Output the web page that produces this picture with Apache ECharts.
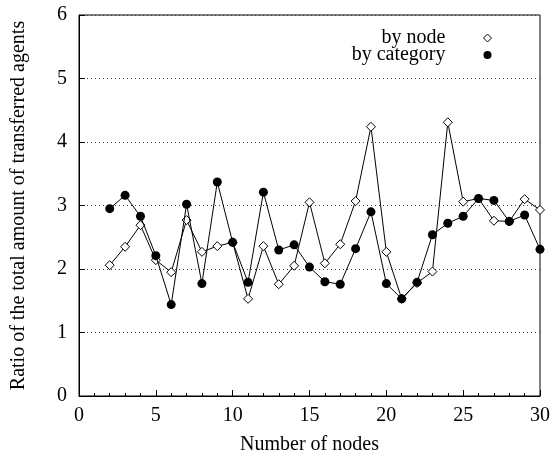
<!DOCTYPE html>
<html>
<head>
<meta charset="utf-8">
<script src="https://cdn.jsdelivr.net/npm/echarts@6/dist/echarts.min.js"></script>
<style>
  html, body { margin: 0; padding: 0; background: #fff; }
  #main { width: 555px; height: 460px; }
</style>
</head>
<body>
<div id="main"></div>
<script>
;(function() {
    // number of nodes
    var nodes = [2, 3, 4, 5, 6, 7, 8, 9, 10, 11, 12, 13, 14, 15, 16,
                 17, 18, 19, 20, 21, 22, 23, 24, 25, 26, 27, 28, 29, 30];
    var byNode = [2.06, 2.35, 2.69, 2.14, 1.95, 2.77, 2.27, 2.36, 2.42, 1.53,
                  2.36, 1.76, 2.05, 3.05, 2.09, 2.39, 3.07, 4.24, 2.27, 1.53,
                  1.78, 1.96, 4.31, 3.06, 3.11, 2.76, 2.75, 3.10, 2.93];
    var byCategory = [2.95, 3.16, 2.83, 2.21, 1.44, 3.02, 1.77, 3.37, 2.42, 1.79,
                      3.21, 2.30, 2.38, 2.03, 1.80, 1.76, 2.32, 2.90, 1.77, 1.53,
                      1.79, 2.54, 2.72, 2.83, 3.11, 3.08, 2.75, 2.85, 2.31];

    function pairs(xs, ys) {
        return xs.map(function(x, i) { return [x, ys[i]]; });
    }

    var font = 'Liberation Serif';
    var fs = 20;
    var chart = echarts.init(document.getElementById('main'));
    chart.setOption({
        animation: false,
        textStyle: { fontFamily: font, color: '#000' },
        grid: {
            left: 79, right: 15, top: 15, bottom: 62,
            show: true, borderColor: '#000', borderWidth: 1,
            backgroundColor: 'transparent'
        },
        legend: {
            orient: 'vertical',
            align: 'right',
            right: 63,
            top: 28,
            padding: 0,
            itemGap: -3,
            itemWidth: 8,
            itemHeight: 8,
            textStyle: { fontFamily: font, fontSize: fs, lineHeight: 17, color: '#000', padding: [0, 33, 0, 0] },
            data: [
                { name: 'by node', icon: 'diamond',
                  itemStyle: { color: '#fff', borderColor: '#000', borderWidth: 1 } },
                { name: 'by category', icon: 'circle',
                  itemStyle: { color: '#000', borderWidth: 0 } }
            ]
        },
        xAxis: {
            type: 'value',
            min: 0, max: 30, interval: 5,
            name: 'Number of nodes',
            nameLocation: 'middle',
            nameGap: 39,
            nameTextStyle: { fontFamily: font, fontSize: fs, color: '#000' },
            axisLine: { lineStyle: { color: '#000', width: 1 } },
            axisTick: { inside: true, length: 6, lineStyle: { color: '#000' } },
            minorTick: { show: true, splitNumber: 5, length: 3, lineStyle: { color: '#000' } },
            axisLabel: { fontFamily: font, fontSize: fs, color: '#000', margin: 10 },
            splitLine: { show: false }
        },
        yAxis: {
            type: 'value',
            min: 0, max: 6, interval: 1,
            name: 'Ratio of the total amount of transferred agents',
            nameLocation: 'middle',
            nameGap: 50,
            nameTextStyle: { fontFamily: font, fontSize: fs, color: '#000' },
            axisLine: { show: true, lineStyle: { color: '#000', width: 1 } },
            axisTick: { show: true, inside: true, length: 6, lineStyle: { color: '#000' } },
            axisLabel: { fontFamily: font, fontSize: fs, color: '#000', margin: 12 },
            splitLine: { show: true, lineStyle: { color: '#444', type: [1, 3], width: 1 } }
        },
        series: [{
            name: 'by node',
            type: 'line',
            data: pairs(nodes, byNode),
            symbol: 'diamond',
            symbolSize: 9,
            showAllSymbol: true,
            lineStyle: { color: '#000', width: 1 },
            itemStyle: { color: '#fff', borderColor: '#000', borderWidth: 1 },
            z: 2
        }, {
            name: 'by category',
            type: 'line',
            data: pairs(nodes, byCategory),
            symbol: 'circle',
            symbolSize: 9,
            showAllSymbol: true,
            lineStyle: { color: '#000', width: 1 },
            itemStyle: { color: '#000', borderWidth: 0 },
            z: 3
        }]
    });
})();
</script>
</body>
</html>
